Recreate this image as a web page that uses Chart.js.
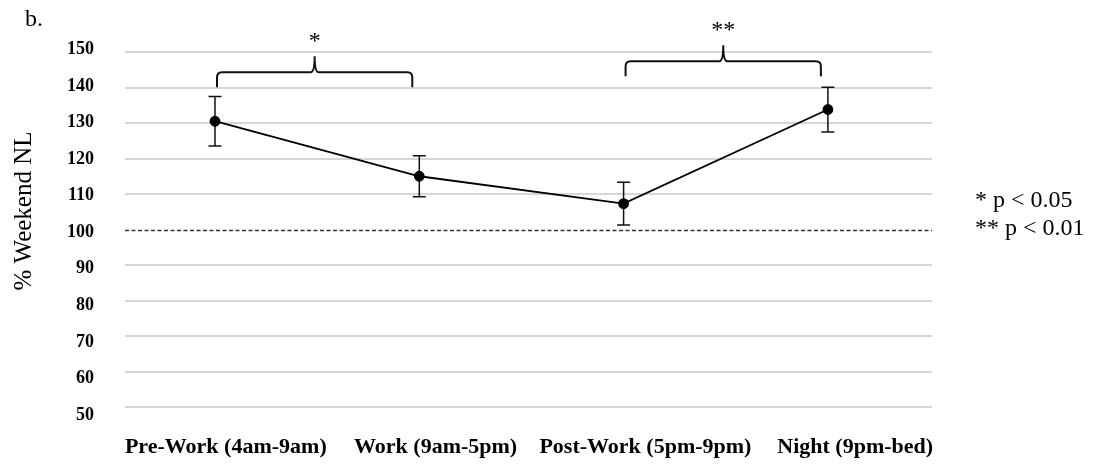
<!DOCTYPE html>
<html><head><meta charset="utf-8">
<script src="https://cdn.jsdelivr.net/npm/chart.js@4.4.1/dist/chart.umd.min.js"></script>
<style>html,body{margin:0;padding:0;background:#fff;} #wrap{width:1102px;height:464px;position:relative;}</style>
</head><body><div id="wrap"><canvas id="c" width="1102" height="464"></canvas></div>
<script>
const categories = ['Pre-Work (4am-9am)', 'Work (9am-5pm)', 'Post-Work (5pm-9pm)', 'Night (9pm-bed)'];
const meanValues = [130.5, 115.0, 107.3, 133.8];
const errorValues = [7.0, 5.8, 6.0, 6.3];
const yTickValues = [50, 60, 70, 80, 90, 100, 110, 120, 130, 140, 150];
const referenceValue = 100;
const sigPairs = [[0, 1], [2, 3]];
const sigLabels = ['*', '**'];
const sigLevels = [140.1, 143.2];
const legendLines = ['* p < 0.05', '** p < 0.01'];
const panelLabel = 'b.';
const yTitle = '% Weekend NL';

const SERIF = "'Liberation Serif', 'Times New Roman', serif";
Chart.defaults.font.family = SERIF;
Chart.defaults.color = '#000';

const annot = {
  id: 'annot',
  beforeDatasetsDraw(chart) {
    const ctx = chart.ctx, a = chart.chartArea;
    const xs = chart.scales.x, ys = chart.scales.y;
    ctx.save();
    const yr = Math.round(ys.getPixelForValue(referenceValue)) + 0.5;
    ctx.strokeStyle = '#333';
    ctx.lineWidth = 1.3;
    ctx.setLineDash([4, 2.5]);
    ctx.beginPath(); ctx.moveTo(a.left, yr); ctx.lineTo(a.right, yr); ctx.stroke();
    ctx.setLineDash([]);
    ctx.strokeStyle = '#111';
    ctx.lineWidth = 1.5;
    meanValues.forEach((m, i) => {
      const x = xs.getPixelForValue(i);
      const yt = ys.getPixelForValue(m + errorValues[i]);
      const yb = ys.getPixelForValue(m - errorValues[i]);
      ctx.beginPath();
      ctx.moveTo(x, yt); ctx.lineTo(x, yb);
      ctx.moveTo(x - 6.5, yt); ctx.lineTo(x + 6.5, yt);
      ctx.moveTo(x - 6.5, yb); ctx.lineTo(x + 6.5, yb);
      ctx.stroke();
    });
    ctx.restore();
  },
  afterDraw(chart) {
    const ctx = chart.ctx;
    const xs = chart.scales.x, ys = chart.scales.y;
    ctx.save();
    ctx.strokeStyle = '#111';
    ctx.lineWidth = 2;
    ctx.fillStyle = '#000';
    sigPairs.forEach((p, k) => {
      const xl = xs.getPixelForValue(p[0]) + 2;
      const xr = xs.getPixelForValue(p[1]) - 7;
      const xm = (xl + xr) / 2;
      const yb = ys.getPixelForValue(sigLevels[k]);
      const yh = yb - 15;
      const yp = yb - 31;
      const r = 5;
      ctx.beginPath();
      ctx.moveTo(xl, yb);
      ctx.lineTo(xl, yh + r);
      ctx.quadraticCurveTo(xl, yh, xl + r, yh);
      ctx.lineTo(xm - 4, yh);
      ctx.quadraticCurveTo(xm, yh, xm, yp);
      ctx.quadraticCurveTo(xm, yh, xm + 4, yh);
      ctx.lineTo(xr - r, yh);
      ctx.quadraticCurveTo(xr, yh, xr, yh + r);
      ctx.lineTo(xr, yb);
      ctx.stroke();
      ctx.font = '24px ' + SERIF;
      ctx.textAlign = 'center';
      ctx.textBaseline = 'alphabetic';
      ctx.fillText(sigLabels[k], xm, yb - 39);
    });
    ctx.textAlign = 'left';
    ctx.font = '24px ' + SERIF;
    ctx.fillText(legendLines[0], 975, 207);
    ctx.fillText(legendLines[1], 975, 235);
    ctx.font = '24px ' + SERIF;
    ctx.fillText(panelLabel, 25, 26);
    ctx.translate(31, 211);
    ctx.rotate(-Math.PI / 2);
    ctx.textAlign = 'center';
    ctx.font = '25px ' + SERIF;
    ctx.fillText(yTitle, 0, 0);
    ctx.restore();
  }
};

new Chart(document.getElementById('c'), {
  type: 'line',
  data: {
    datasets: [{
      data: meanValues.map((v, i) => ({ x: i, y: v })),
      borderColor: '#000',
      borderWidth: 1.8,
      pointRadius: 4.5,
      pointBackgroundColor: '#000',
      pointBorderColor: '#000',
      tension: 0,
      xAxisID: 'x',
      yAxisID: 'y'
    }]
  },
  options: {
    responsive: false,
    animation: false,
    devicePixelRatio: 1,
    layout: { padding: { left: 0, right: 170, top: 52, bottom: 0 } },
    plugins: { legend: { display: false }, tooltip: { enabled: false } },
    scales: {
      x: { type: 'linear', display: false, min: -0.4405, max: 3.5096 },
      xl: {
        type: 'linear', position: 'bottom', min: -0.4805, max: 3.366,
        grid: { display: false, drawTicks: false }, border: { display: false },
        ticks: {
          autoSkip: false, maxRotation: 0, padding: 27, color: '#000',
          font: { family: SERIF, size: 22, weight: 'bold' },
          callback: (v) => categories[v] !== undefined ? categories[v] : ''
        },
        afterBuildTicks: (s) => { s.ticks = categories.map((_, i) => ({ value: i })); },
        afterFit: (s) => { s.height = 57; }
      },
      y: {
        type: 'linear', position: 'left', min: 50, max: 150,
        ticks: { display: false, stepSize: 10 },
        grid: {
          color: (c) => (c.tick && c.tick.value === referenceValue) ? 'rgba(0,0,0,0)' : '#d6d6d6',
          lineWidth: 2, drawTicks: false
        },
        border: { display: false },
        afterFit: (s) => { s.width = 0; }
      },
      yl: {
        type: 'linear', position: 'left', min: 52.19, max: 149.32,
        grid: { display: false, drawTicks: false }, border: { display: false },
        ticks: {
          autoSkip: false, padding: 31, color: '#000',
          font: { family: SERIF, size: 18, weight: 'bold' },
          callback: (v) => String(v)
        },
        afterBuildTicks: (s) => { s.ticks = yTickValues.map(v => ({ value: v })); },
        afterFit: (s) => { s.width = 125; }
      }
    }
  },
  plugins: [annot]
});
</script>
</body></html>
